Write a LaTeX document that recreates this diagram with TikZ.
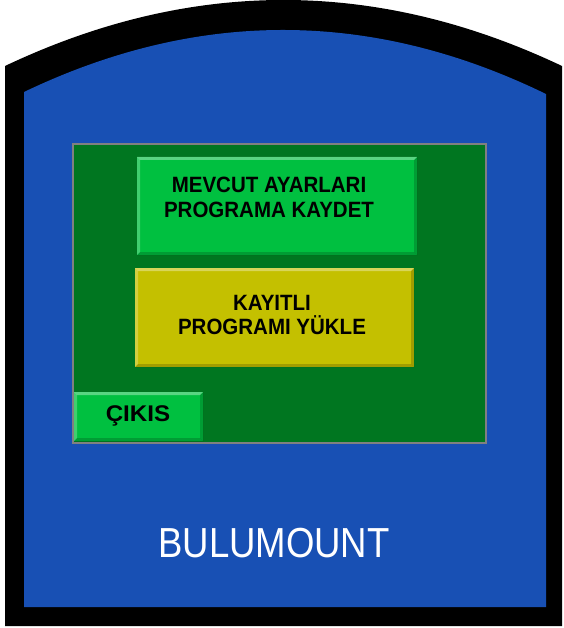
\documentclass[tikz,border=0pt]{standalone}
\usepackage{fontspec}
\setmainfont{Liberation Sans}

\definecolor{caseblue}{RGB}{24,80,180}
\definecolor{screengreen}{RGB}{0,118,32}
\definecolor{keygreen}{RGB}{0,192,64}
\definecolor{keyyellow}{RGB}{196,192,0}

\tikzset{
  key/.style={draw=none, inner sep=0pt, minimum width=#1,
    path picture={
      \def\bb{path picture bounding box}
      \fill[white,opacity=.35] (\bb.north west) -- (\bb.north east) -- ([shift={(-3pt,-3pt)}]\bb.north east) -- ([shift={(3pt,-3pt)}]\bb.north west) -- cycle;
      \fill[white,opacity=.25] (\bb.north west) -- ([shift={(3pt,-3pt)}]\bb.north west) -- ([shift={(3pt,3pt)}]\bb.south west) -- (\bb.south west) -- cycle;
      \fill[black,opacity=.18] (\bb.south west) -- (\bb.south east) -- ([shift={(-3pt,3pt)}]\bb.south east) -- ([shift={(3pt,3pt)}]\bb.south west) -- cycle;
      \fill[black,opacity=.18] (\bb.north east) -- (\bb.south east) -- ([shift={(-3pt,3pt)}]\bb.south east) -- ([shift={(-3pt,-3pt)}]\bb.north east) -- cycle;
    }},
  keytext/.style={align=center, inner sep=0pt, yscale=1.08, font=\bfseries\fontsize{20.5}{23}\selectfont},
}

\begin{document}
\begin{tikzpicture}[x=1pt,y=-1pt]
  \useasboundingbox (0,0) rectangle (563,628);

  % housing
  \fill[black] (5,626) -- (5,66) .. controls (190.7,-22) and (376.3,-22) .. (562,66) -- (562,626) -- cycle;
  \fill[caseblue] (24,607) -- (24,92) .. controls (198,8.7) and (372,9.3) .. (546,94) -- (546,607) -- cycle;

  % screen
  \node[fill=screengreen, draw=gray, line width=2pt, minimum width=413pt, minimum height=299pt, inner sep=0pt] (screen) at (279.5,293.5) {};

  % buttons
  \node[key=280pt, minimum height=98pt, fill=keygreen] (save) at (277,206) {};
  \node[keytext] (savetxt) at (269,197.5) {MEVCUT AYARLARI\\PROGRAMA KAYDET};

  \node[key=279pt, minimum height=99pt, fill=keyyellow] (load) at (274.5,317.5) {};
  \node[keytext] (loadtxt) at (272,315) {KAYITLI\\PROGRAMI YÜKLE};

  \node[key=129pt, minimum height=49pt, fill=keygreen] (quit) at (138.5,416.5) {};
  \node[keytext, xscale=1.15, font=\bfseries\fontsize{21}{25}\selectfont] (quittxt) at (138,416) {ÇIKIS};

  % brand
  \node[white, font=\fontsize{42}{46}\selectfont, xscale=.87] (brand) at (274,543) {BULUMOUNT};
\end{tikzpicture}
\end{document}
